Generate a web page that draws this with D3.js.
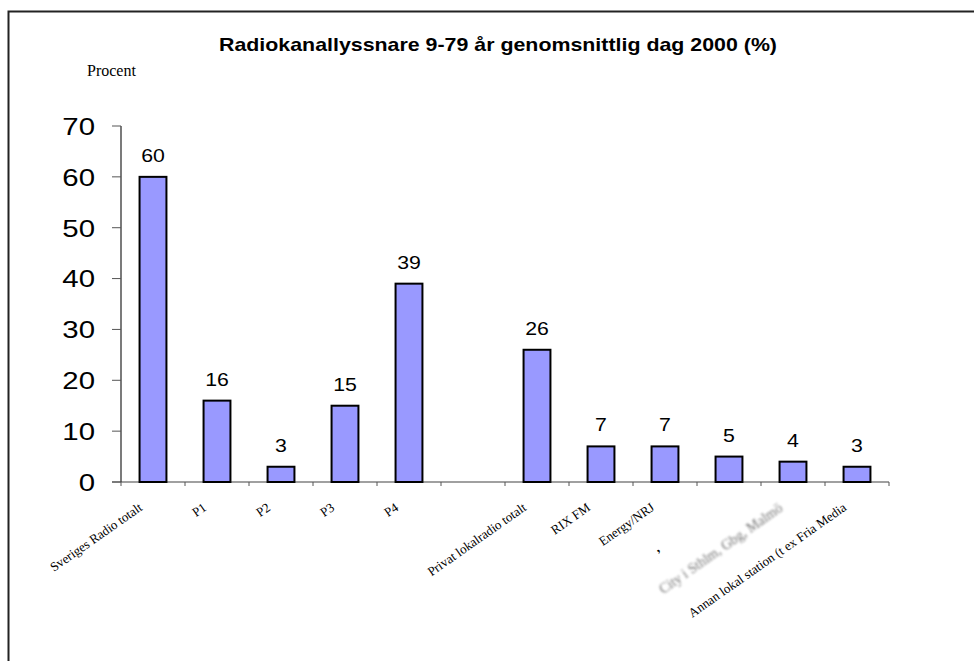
<!DOCTYPE html>
<html>
<head>
<meta charset="utf-8">
<script src="https://cdn.jsdelivr.net/npm/d3@7"></script>
<style>
  body { margin: 0; background: #fff; }
  svg { display: block; }
</style>
</head>
<body>
<div id="chart"></div>
<script>
// chart data
const categories = [
  "Sveriges Radio totalt", "P1", "P2", "P3", "P4", "",
  "Privat lokalradio totalt", "RIX FM", "Energy/NRJ", ",",
  "City i Sthlm, Gbg, Malmö", "Annan lokal station (t ex Fria Media"
];
const values = [60, 16, 3, 15, 39, null, 26, 7, 7, 5, 4, 3];
const yTicks = [0, 10, 20, 30, 40, 50, 60, 70];
const titleText = "Radiokanallyssnare 9-79 år genomsnittlig dag 2000 (%)";
const yAxisTitle = "Procent";

const width = 974, height = 661;

const svg = d3.select("#chart").append("svg")
  .attr("width", width)
  .attr("height", height);

const defs = svg.append("defs");
defs.append("filter").attr("id", "blur")
  .attr("x", "-10%").attr("y", "-50%").attr("width", "120%").attr("height", "200%")
  .append("feGaussianBlur").attr("stdDeviation", 0.85);

// outer frame (runs off the right and bottom edges)
svg.append("path")
  .attr("d", `M8.5,${height + 2} V11.5 H${width + 2}`)
  .attr("fill", "none")
  .attr("stroke", "#222")
  .attr("stroke-width", 2);

const x = d3.scaleBand()
  .domain(d3.range(categories.length))
  .range([121, 889])
  .paddingInner(0.58)
  .paddingOuter(0.29);

const y = d3.scaleLinear()
  .domain([0, 70])
  .range([482, 126]);

// title
svg.append("text")
  .attr("x", 219)
  .attr("y", 51)
  .attr("font-family", "Liberation Sans, Arial, sans-serif")
  .attr("font-weight", "bold")
  .attr("font-size", 19)
  .attr("textLength", 558)
  .attr("lengthAdjust", "spacingAndGlyphs")
  .text(titleText);

svg.append("text")
  .attr("x", 87)
  .attr("y", 76)
  .attr("font-family", "Liberation Serif, Times New Roman, serif")
  .attr("font-size", 16)
  .text(yAxisTitle);

// x axis line + ticks at category boundaries
const x0 = x.range()[0], step = x.step();
svg.append("line")
  .attr("x1", 112).attr("x2", 889)
  .attr("y1", y(0)).attr("y2", y(0))
  .attr("stroke", "#808080")
  .attr("stroke-width", 1.5);

svg.append("g").selectAll("line")
  .data(d3.range(categories.length + 1))
  .join("line")
  .attr("x1", i => x0 + i * step)
  .attr("x2", i => x0 + i * step)
  .attr("y1", y(0))
  .attr("y2", y(0) + 4)
  .attr("stroke", "#555")
  .attr("stroke-width", 1);

// y axis
svg.append("line")
  .attr("x1", 121).attr("x2", 121)
  .attr("y1", y(70)).attr("y2", y(0))
  .attr("stroke", "#333")
  .attr("stroke-width", 1.3);

const yg = svg.append("g");
yg.selectAll("line")
  .data(yTicks)
  .join("line")
  .attr("x1", 112).attr("x2", 121)
  .attr("y1", d => y(d)).attr("y2", d => y(d))
  .attr("stroke", "#555")
  .attr("stroke-width", 1);

yg.selectAll("text")
  .data(yTicks)
  .join("text")
  .attr("transform", d => `translate(95,${y(d)}) scale(1.2,1)`)
  .attr("text-anchor", "end")
  .attr("dy", "0.36em")
  .attr("font-family", "Liberation Sans, Arial, sans-serif")
  .attr("font-size", 24.5)
  .text(d => d);

// bars
const data = categories.map((c, i) => ({ i, c, v: values[i] }));

svg.append("g").selectAll("rect")
  .data(data.filter(d => d.v != null))
  .join("rect")
  .attr("x", d => x(d.i))
  .attr("y", d => y(d.v))
  .attr("width", x.bandwidth())
  .attr("height", d => y(0) - y(d.v))
  .attr("fill", "#9999FF")
  .attr("stroke", "#000")
  .attr("stroke-width", 2);

// value labels
svg.append("g").selectAll("text")
  .data(data.filter(d => d.v != null))
  .join("text")
  .attr("transform", d => `translate(${x(d.i) + x.bandwidth() / 2},${y(d.v) - 15}) scale(1.12,1)`)
  .attr("text-anchor", "middle")
  .attr("font-family", "Liberation Sans, Arial, sans-serif")
  .attr("font-size", 19)
  .text(d => d.v);

// category labels, rotated
svg.append("g").selectAll("text")
  .data(data.filter(d => d.c !== ""))
  .join("text")
  .attr("transform", d => `translate(${x(d.i) + x.bandwidth() / 2 - 15},${y(0) + 20}) rotate(-35)`)
  .attr("text-anchor", "end")
  .attr("dy", "0.7em")
  .attr("dx", d => d.c === "," ? -72 : 0)
  .attr("font-family", "Liberation Serif, Times New Roman, serif")
  .attr("font-size", d => d.i === 10 ? 14 : 13)
  .attr("font-weight", d => d.c === "," ? "bold" : null)
  .attr("fill", d => d.i === 10 ? "#777" : "#000")
  .attr("filter", d => d.i === 10 ? "url(#blur)" : null)
  .text(d => d.c);
</script>
</body>
</html>
